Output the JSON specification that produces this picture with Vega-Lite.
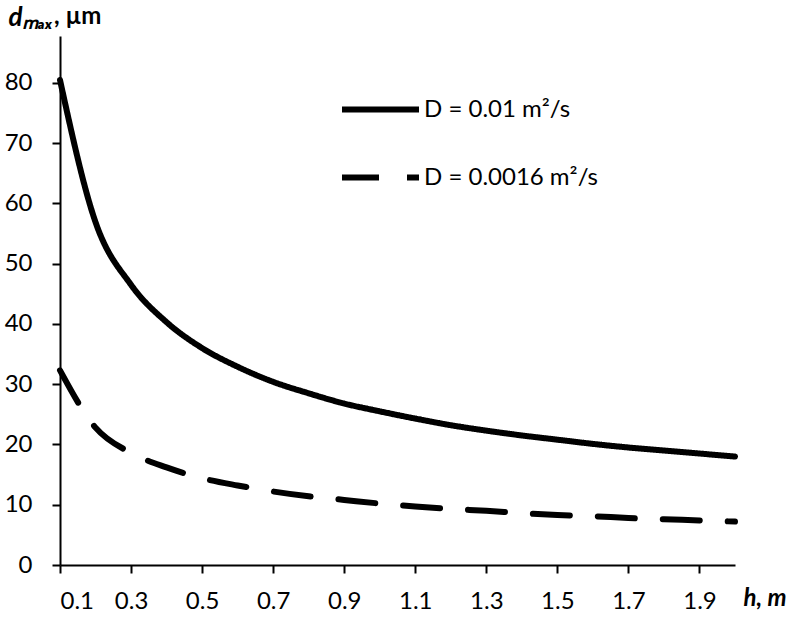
{
  "$schema": "https://vega.github.io/schema/vega-lite/v6.json",
  "width": 675,
  "height": 529,
  "autosize": {"type": "none"},
  "padding": {"left": 60, "top": 36, "right": 65, "bottom": 53},
  "background": "white",
  "title": {
    "text": ", µm",
    "anchor": "start",
    "frame": "group",
    "orient": "top",
    "font": "Lato",
    "fontSize": 24,
    "fontWeight": "bold",
    "color": "#000",
    "baseline": "alphabetic",
    "offset": 0,
    "dx": -6,
    "dy": 44
  },
  "config": {
    "view": {"stroke": null},
    "font": "Lato",
    "axis": {
      "grid": false,
      "domainColor": "#000",
      "domainWidth": 2,
      "tickColor": "#000",
      "tickWidth": 2,
      "tickSize": 8,
      "labelFont": "Lato",
      "labelFontSize": 24,
      "labelColor": "#000",
      "titleFont": "Lato",
      "titleColor": "#000"
    }
  },
  "data": {
    "values": [
      {"h": 0.1, "d": 80.5, "series": "D = 0.01 m²/s"},
      {"h": 0.2, "d": 56.9, "series": "D = 0.01 m²/s"},
      {"h": 0.3, "d": 46.5, "series": "D = 0.01 m²/s"},
      {"h": 0.4, "d": 40.3, "series": "D = 0.01 m²/s"},
      {"h": 0.5, "d": 36.0, "series": "D = 0.01 m²/s"},
      {"h": 0.6, "d": 32.9, "series": "D = 0.01 m²/s"},
      {"h": 0.7, "d": 30.4, "series": "D = 0.01 m²/s"},
      {"h": 0.8, "d": 28.5, "series": "D = 0.01 m²/s"},
      {"h": 0.9, "d": 26.8, "series": "D = 0.01 m²/s"},
      {"h": 1.0, "d": 25.5, "series": "D = 0.01 m²/s"},
      {"h": 1.1, "d": 24.3, "series": "D = 0.01 m²/s"},
      {"h": 1.2, "d": 23.2, "series": "D = 0.01 m²/s"},
      {"h": 1.3, "d": 22.3, "series": "D = 0.01 m²/s"},
      {"h": 1.4, "d": 21.5, "series": "D = 0.01 m²/s"},
      {"h": 1.5, "d": 20.8, "series": "D = 0.01 m²/s"},
      {"h": 1.6, "d": 20.1, "series": "D = 0.01 m²/s"},
      {"h": 1.7, "d": 19.5, "series": "D = 0.01 m²/s"},
      {"h": 1.8, "d": 19.0, "series": "D = 0.01 m²/s"},
      {"h": 1.9, "d": 18.5, "series": "D = 0.01 m²/s"},
      {"h": 2.0, "d": 18.0, "series": "D = 0.01 m²/s"},
      {"h": 0.1, "d": 32.3, "series": "D = 0.0016 m²/s"},
      {"h": 0.2, "d": 22.8, "series": "D = 0.0016 m²/s"},
      {"h": 0.3, "d": 18.6, "series": "D = 0.0016 m²/s"},
      {"h": 0.4, "d": 16.2, "series": "D = 0.0016 m²/s"},
      {"h": 0.5, "d": 14.4, "series": "D = 0.0016 m²/s"},
      {"h": 0.6, "d": 13.2, "series": "D = 0.0016 m²/s"},
      {"h": 0.7, "d": 12.2, "series": "D = 0.0016 m²/s"},
      {"h": 0.8, "d": 11.4, "series": "D = 0.0016 m²/s"},
      {"h": 0.9, "d": 10.8, "series": "D = 0.0016 m²/s"},
      {"h": 1.0, "d": 10.2, "series": "D = 0.0016 m²/s"},
      {"h": 1.1, "d": 9.7, "series": "D = 0.0016 m²/s"},
      {"h": 1.2, "d": 9.3, "series": "D = 0.0016 m²/s"},
      {"h": 1.3, "d": 9.0, "series": "D = 0.0016 m²/s"},
      {"h": 1.4, "d": 8.6, "series": "D = 0.0016 m²/s"},
      {"h": 1.5, "d": 8.3, "series": "D = 0.0016 m²/s"},
      {"h": 1.6, "d": 8.1, "series": "D = 0.0016 m²/s"},
      {"h": 1.7, "d": 7.8, "series": "D = 0.0016 m²/s"},
      {"h": 1.8, "d": 7.6, "series": "D = 0.0016 m²/s"},
      {"h": 1.9, "d": 7.4, "series": "D = 0.0016 m²/s"},
      {"h": 2.0, "d": 7.2, "series": "D = 0.0016 m²/s"}
    ]
  },
  "mark": {"type": "line", "interpolate": "monotone", "strokeWidth": 6, "color": "#000", "strokeCap": "round", "clip": false},
  "encoding": {
    "x": {
      "field": "h",
      "type": "quantitative",
      "scale": {"domain": [0.1, 2.0], "nice": false, "zero": false},
      "axis": {
        "values": [0.1, 0.3, 0.5, 0.7, 0.9, 1.1, 1.3, 1.5, 1.7, 1.9],
        "format": ".1f",
        "labelPadding": 16,
        "title": "h, m",
        "titleFontSize": 24,
        "titleFontWeight": "bold",
        "titleFontStyle": "italic",
        "titleAlign": "left",
        "titleBaseline": "alphabetic",
        "titleX": 683,
        "titleY": 40
      }
    },
    "y": {
      "field": "d",
      "type": "quantitative",
      "scale": {"domain": [0, 87.8], "nice": false},
      "axis": {
        "values": [0, 10, 20, 30, 40, 50, 60, 70, 80],
        "labelPadding": 20,
        "title": "dₘₐₓ",
        "titleFontSize": 26,
        "titleFontWeight": "bold",
        "titleFontStyle": "italic",
        "titleAngle": 0,
        "titleAlign": "left",
        "titleBaseline": "alphabetic",
        "titleX": -52,
        "titleY": -11
      }
    },
    "strokeDash": {
      "field": "series",
      "type": "nominal",
      "scale": {"domain": ["D = 0.01 m²/s", "D = 0.0016 m²/s"], "range": [[1, 0], [37, 28]]},
      "legend": {
        "orient": "none",
        "legendX": 279,
        "legendY": 32,
        "title": null,
        "padding": 0,
        "symbolType": "stroke",
        "symbolSize": 5929,
        "symbolStrokeWidth": 6,
        "symbolStrokeColor": "#000",
        "labelFont": "Lato",
        "labelFontSize": 24,
        "labelColor": "#000",
        "labelOffset": 2,
        "labelLimit": 400,
        "rowPadding": 14
      }
    }
  }
}
